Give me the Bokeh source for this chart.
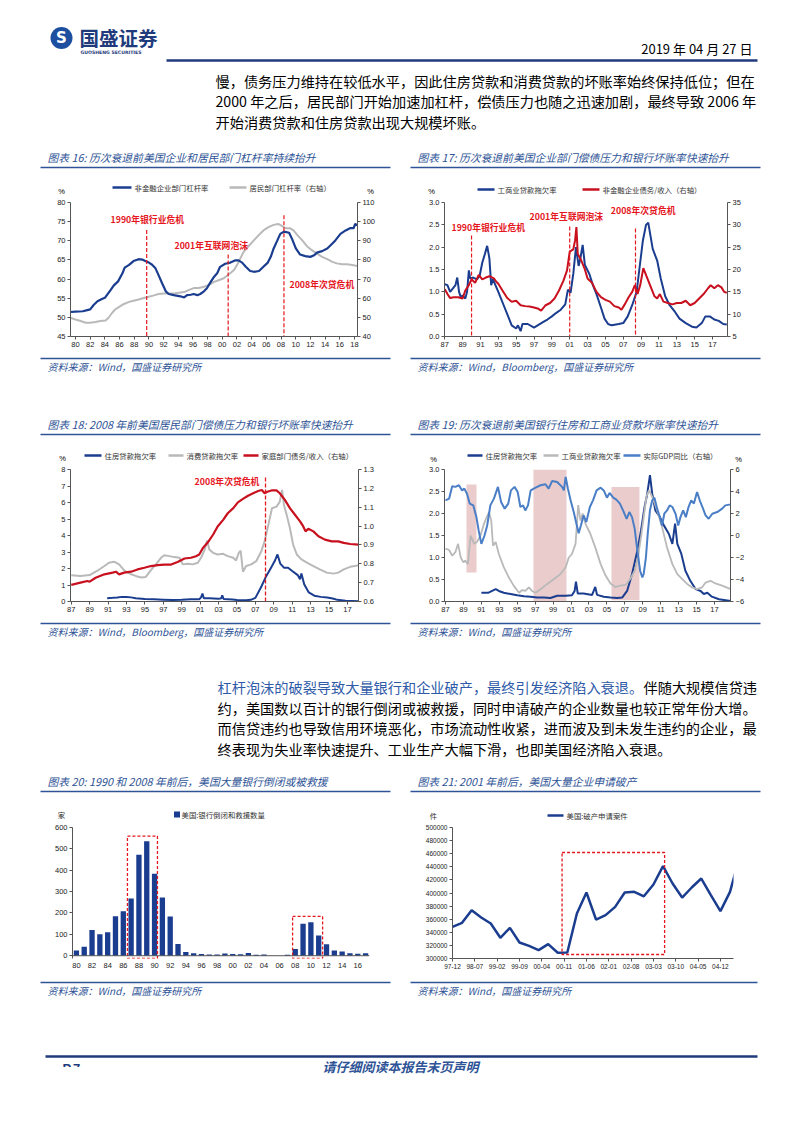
from bokeh.plotting import figure
from bokeh.models import Range1d, LinearAxis, FixedTicker, NumeralTickFormatter, Span
from bokeh.layouts import column, row
from bokeh.embed import file_html
from bokeh.resources import INLINE
from bokeh.core.properties import value

CJK = "Noto Sans CJK SC"
NUM = "Liberation Sans"
NAVY = "#1b3d8f"
GREY = "#b9b9b9"
RED = "#c8101e"
ANN = "#e5161d"
GDPC = "#4a7ec6"
TBLUE = "#2e5396"
HBLUE = "#1f3b7c"
LEG = 7.4
TITLE = 10.8

# ---------------- data ----------------
# Chart 16: leverage (%)  (year, value)
c16_corp = [(1979.3, 51.4), (1980, 51.5), (1981, 51.6), (1981.6, 51.9), (1982, 52.1), (1982.5, 53.3), (1983, 54.2),
            (1983.6, 54.8), (1984, 55.1), (1984.8, 57.2), (1985.2, 58.3), (1985.8, 59.4), (1986.4, 61.5), (1986.7, 63.0),
            (1987.3, 63.7), (1987.9, 64.7), (1988.6, 65.2), (1989.1, 65.1), (1989.5, 64.7), (1990, 64.3), (1990.4, 63.8),
            (1990.9, 62.8), (1991.3, 61.1), (1991.8, 58.9), (1992.3, 56.8), (1992.7, 56.1), (1993.4, 55.8), (1994.3, 55.5),
            (1994.8, 55.2), (1995.2, 55.8), (1995.7, 55.9), (1996.1, 56.1), (1996.6, 55.8), (1997, 56.1), (1997.5, 56.8),
            (1997.9, 57.6), (1998.4, 59.2), (1998.8, 60.4), (1999.3, 61.5), (1999.7, 63.2), (2000.4, 64.0), (2001.1, 64.3),
            (2001.8, 64.9), (2002.2, 64.9), (2002.7, 64.3), (2003.2, 63.2), (2003.8, 62.1), (2004.3, 61.9), (2005, 62.1),
            (2005.6, 63.2), (2006.2, 64.3), (2006.6, 65.8), (2007, 68.0), (2007.5, 70.1), (2007.9, 71.8), (2008.4, 72.4),
            (2009.1, 72.1), (2009.5, 70.5), (2010, 68.1), (2010.6, 66.4), (2011.3, 66.0), (2012, 65.8), (2012.5, 66.2),
            (2012.9, 66.9), (2013.6, 67.3), (2014.3, 68.0), (2015, 69.3), (2015.4, 70.1), (2016.1, 71.8), (2016.8, 72.7),
            (2017.4, 73.3), (2017.9, 73.3), (2018.1, 74.4), (2018.4, 74.0)]
c16_house = [(1979.3, 49.8), (1980, 48.9), (1980.7, 48.1), (1981.4, 47.2), (1982, 47.2), (1982.7, 47.6), (1983.4, 48.1),
             (1984.1, 48.4), (1984.5, 49.8), (1985, 52.4), (1985.4, 54.1), (1985.9, 55.3), (1986.6, 57.0), (1987.3, 58.1),
             (1987.9, 58.7), (1988.6, 59.3), (1989.3, 60.1), (1990, 60.8), (1990.7, 61.5), (1991.3, 62.2), (1992, 62.5),
             (1992.7, 62.5), (1993.4, 62.5), (1994.1, 62.9), (1994.8, 63.2), (1995.4, 64.2), (1996.1, 65.3), (1996.8, 65.3),
             (1997.5, 66.0), (1998.2, 67.0), (1998.8, 68.4), (1999.5, 69.4), (2000.2, 70.4), (2000.9, 72.5), (2001.6, 74.7),
             (2002.0, 77.3), (2002.5, 81.1), (2002.9, 84.2), (2003.6, 87.3), (2004.3, 90.2), (2005, 93.1), (2005.6, 95.4),
             (2006.3, 97.1), (2007, 98.3), (2007.6, 98.8), (2008, 98.0), (2008.6, 96.6), (2009.2, 96.6), (2009.7, 95.4),
             (2010.2, 93.1), (2010.9, 90.2), (2011.5, 87.3), (2012.2, 85.1), (2012.9, 83.3), (2013.6, 81.6), (2014.3, 80.4),
             (2015, 79.0), (2015.6, 78.2), (2016.3, 77.8), (2017, 77.7), (2017.7, 77.3), (2018.4, 76.8)]
c16_events = [1989.7, 2000.8, 2008.4]
c16_event_top = [72.8, 66.4, 76.7]
c16_event_names = ["1990年银行业危机", "2001年互联网泡沫", "2008年次贷危机"]

# Chart 17: C&I loan delinquency (%) and corporate debt/income (right)
c17_ci = [(1987.0, 1.17), (1987.3, 1.15), (1987.6, 1.0), (1988.0, 1.1), (1988.2, 1.15), (1988.4, 1.32), (1988.6, 1.0),
          (1988.8, 0.88), (1989.0, 0.92), (1989.3, 0.85), (1989.5, 1.0), (1989.7, 1.48), (1989.85, 1.3), (1990.2, 1.32),
          (1990.6, 1.28), (1990.9, 1.35), (1991.2, 1.65), (1991.5, 1.85), (1991.75, 2.03), (1992.0, 1.75), (1992.2, 1.15),
          (1992.4, 1.28), (1993.0, 1.0), (1993.5, 0.75), (1994.0, 0.5), (1994.5, 0.25), (1995.0, 0.18), (1995.2, 0.25),
          (1995.5, 0.12), (1995.7, 0.28), (1996.3, 0.28), (1997.0, 0.2), (1997.5, 0.26), (1998.0, 0.32), (1998.5, 0.38),
          (1999.0, 0.45), (1999.5, 0.53), (2000.0, 0.6), (2000.5, 0.72), (2000.8, 1.05), (2001.1, 0.98), (2001.4, 1.4),
          (2001.7, 2.0), (2002.0, 1.58), (2002.2, 1.75), (2002.45, 2.05), (2002.7, 1.6), (2003.2, 1.4), (2003.6, 1.15),
          (2004.0, 0.95), (2004.5, 0.65), (2004.9, 0.4), (2005.3, 0.28), (2005.7, 0.25), (2006.5, 0.28), (2007.0, 0.3),
          (2007.5, 0.45), (2008.0, 0.7), (2008.5, 1.0), (2008.8, 1.5), (2009.2, 2.15), (2009.55, 2.5), (2009.8, 2.55),
          (2010.3, 1.96), (2010.8, 1.7), (2011.2, 1.3), (2011.7, 0.9), (2012.2, 0.7), (2012.8, 0.55), (2013.3, 0.4),
          (2014.0, 0.3), (2014.7, 0.22), (2015.2, 0.2), (2015.8, 0.3), (2016.2, 0.45), (2016.7, 0.45), (2017.2, 0.38),
          (2017.7, 0.35), (2018.2, 0.28), (2018.6, 0.27)]
c17_debt = [(1987.0, 15.6), (1987.3, 14.5), (1987.6, 13.6), (1988.0, 13.8), (1988.5, 13.8), (1989.0, 13.5), (1989.3, 15.3),
            (1989.7, 16.5), (1990.0, 17.8), (1990.4, 17.0), (1990.8, 18.8), (1991.2, 17.8), (1991.6, 18.2), (1992.0, 18.5),
            (1992.5, 18.0), (1992.8, 17.2), (1993.0, 16.8), (1993.5, 15.2), (1994.0, 13.6), (1994.5, 12.8), (1995.0, 13.0),
            (1995.5, 12.0), (1996.0, 11.8), (1996.5, 11.7), (1997.0, 11.5), (1997.5, 11.2), (1997.8, 10.8), (1998.3, 12.0),
            (1998.8, 12.5), (1999.3, 13.5), (1999.8, 15.3), (2000.3, 17.5), (2000.7, 19.8), (2001.0, 24.0), (2001.4, 24.5),
            (2001.6, 26.5), (2001.75, 29.5), (2001.9, 23.5), (2002.3, 22.0), (2002.7, 20.0), (2003.0, 18.0), (2003.5, 17.0),
            (2004.0, 15.0), (2004.5, 13.8), (2005.0, 13.2), (2005.5, 12.8), (2006.0, 11.8), (2006.5, 11.5), (2006.8, 11.0),
            (2007.2, 12.3), (2007.6, 13.8), (2008.0, 15.0), (2008.3, 16.5), (2008.6, 14.5), (2008.9, 16.5), (2009.25, 20.3),
            (2009.6, 18.5), (2010.2, 15.5), (2010.5, 14.0), (2010.8, 13.5), (2011.1, 14.5), (2011.5, 12.8), (2012.0, 12.5),
            (2012.5, 12.2), (2013.0, 12.5), (2013.5, 12.5), (2014.0, 13.0), (2014.5, 12.0), (2015.0, 12.5), (2015.5, 13.5),
            (2016.0, 14.5), (2016.5, 15.8), (2016.8, 16.5), (2017.2, 15.8), (2017.6, 16.5), (2018.0, 16.0), (2018.3, 15.0),
            (2018.6, 14.8)]
c17_events = [1990.0, 2001.0, 2008.37]
c17_event_top = [2.26, 2.46, 2.42]

# Chart 18: household delinquency rates (%) and household debt/income (right)
c18_mort = [(1990.9, 0.2), (1991.5, 0.22), (1992.0, 0.24), (1992.5, 0.28), (1993.0, 0.27), (1993.5, 0.25), (1994.0, 0.2),
            (1995.0, 0.15), (1996.0, 0.13), (1997.0, 0.11), (1998.0, 0.09), (1999.0, 0.1), (2000.0, 0.13), (2000.9, 0.14),
            (2001.1, 0.25), (2001.25, 0.48), (2001.4, 0.2), (2002.0, 0.19), (2003.0, 0.16), (2003.3, 0.2), (2003.4, 0.38),
            (2003.55, 0.15), (2004.5, 0.12), (2005.0, 0.09), (2006.0, 0.08), (2006.5, 0.1), (2007.0, 0.22), (2007.6, 0.85),
            (2008.1, 1.45), (2008.7, 2.05), (2009.1, 2.45), (2009.4, 2.85), (2009.7, 2.3), (2010.1, 2.05), (2010.55, 2.05),
            (2011.0, 1.85), (2011.6, 1.6), (2011.85, 1.35), (2012.0, 1.7), (2012.3, 1.05), (2012.8, 0.55), (2013.4, 0.35),
            (2014.1, 0.28), (2014.8, 0.24), (2015.4, 0.18), (2015.9, 0.1), (2016.8, 0.05), (2018.2, 0.02)]
c18_cons = [(1987.0, 1.59), (1988.0, 1.55), (1989.0, 1.6), (1989.8, 1.85), (1990.6, 2.15), (1991.1, 2.35), (1991.65, 2.41),
            (1992.2, 2.25), (1992.75, 1.89), (1993.5, 1.65), (1994.0, 1.55), (1994.6, 1.45), (1995.1, 1.49), (1995.65, 1.9),
            (1996.2, 2.25), (1996.75, 2.65), (1997.1, 2.8), (1997.65, 2.75), (1998.2, 2.69), (1998.75, 2.65), (1999.1, 2.25),
            (1999.65, 2.29), (2000.2, 2.25), (2000.75, 2.35), (2001.1, 2.65), (2001.5, 3.15), (2001.75, 3.7), (2002.0, 3.15),
            (2002.4, 2.95), (2002.9, 2.85), (2003.5, 2.89), (2004.0, 2.75), (2004.6, 2.65), (2004.9, 2.49), (2005.2, 2.95),
            (2005.4, 3.09), (2005.65, 1.81), (2006.0, 2.15), (2006.55, 2.25), (2007.1, 2.45), (2007.65, 3.05), (2008.0, 3.65),
            (2008.45, 4.75), (2008.8, 5.65), (2009.3, 5.75), (2009.65, 6.05), (2009.9, 6.76), (2010.1, 5.86), (2010.4, 5.25),
            (2010.75, 4.45), (2011.1, 3.45), (2011.5, 2.85), (2012.0, 2.55), (2012.6, 2.35), (2013.3, 2.15), (2014.0, 1.95),
            (2014.75, 1.75), (2015.5, 1.69), (2016.0, 1.75), (2016.6, 1.95), (2017.3, 2.1), (2018.3, 2.2)]
c18_debt = [(1987.0, 0.688), (1988.0, 0.70), (1988.75, 0.709), (1989.0, 0.705), (1989.65, 0.726), (1990.6, 0.744),
            (1991.5, 0.753), (1991.85, 0.758), (1992.2, 0.744), (1992.75, 0.753), (1993.5, 0.758), (1994.2, 0.77),
            (1994.95, 0.779), (1995.65, 0.788), (1996.4, 0.793), (1997.1, 0.796), (1997.85, 0.796), (1998.55, 0.81),
            (1999.3, 0.828), (2000.0, 0.832), (2000.55, 0.84), (2000.9, 0.849), (2001.3, 0.884), (2001.8, 0.911),
            (2002.4, 0.954), (2002.9, 0.998), (2003.5, 1.033), (2004.0, 1.068), (2004.6, 1.095), (2005.1, 1.126),
            (2005.65, 1.144), (2006.2, 1.161), (2006.75, 1.174), (2007.3, 1.186), (2007.7, 1.191), (2008.0, 1.174),
            (2008.3, 1.182), (2008.75, 1.189), (2009.3, 1.189), (2009.65, 1.174), (2010.2, 1.139), (2010.75, 1.095),
            (2011.3, 1.06), (2011.85, 1.025), (2012.2, 0.998), (2012.45, 0.972), (2012.75, 0.986), (2013.3, 0.972),
            (2013.85, 0.946), (2014.55, 0.928), (2015.3, 0.919), (2016.0, 0.919), (2016.6, 0.911), (2017.3, 0.905),
            (2018.2, 0.902)]
c18_events = [2008.1]
c18_event_top = [7.52]

# Chart 19: mortgage & C&I delinquency (%), real GDP yoy (right)
c19_mort = [(1991.0, 0.2), (1991.8, 0.2), (1992.6, 0.28), (1992.95, 0.24), (1993.5, 0.2), (1994.25, 0.17), (1995.0, 0.14),
            (1995.75, 0.12), (1996.5, 0.11), (1997.2, 0.09), (1998.0, 0.09), (1998.7, 0.08), (1999.45, 0.13), (2000.4, 0.13),
            (2001.1, 0.14), (2001.4, 0.24), (2001.55, 0.45), (2001.75, 0.18), (2002.4, 0.18), (2003.35, 0.15), (2003.7, 0.33),
            (2003.9, 0.15), (2004.65, 0.11), (2005.4, 0.09), (2006.15, 0.08), (2006.7, 0.09), (2007.25, 0.24), (2007.8, 0.62),
            (2008.4, 1.16), (2008.8, 1.61), (2009.2, 2.15), (2009.5, 2.45), (2009.8, 2.87), (2010.05, 2.45), (2010.4, 2.07),
            (2010.9, 1.92), (2011.35, 1.73), (2011.9, 1.54), (2012.3, 1.31), (2012.6, 1.77), (2012.85, 1.31), (2013.3, 1.08),
            (2013.75, 0.7), (2014.3, 0.47), (2014.9, 0.28), (2015.45, 0.24), (2015.8, 0.17), (2016.2, 0.2), (2016.7, 0.11),
            (2017.5, 0.05), (2018.8, 0.01)]
c19_ci = [(1987.0, 1.2), (1987.4, 1.17), (1987.75, 1.04), (1988.1, 1.12), (1988.4, 1.31), (1988.7, 1.0), (1989.0, 0.89),
          (1989.2, 0.93), (1989.5, 0.85), (1989.8, 1.5), (1990.2, 1.31), (1990.5, 1.35), (1990.9, 1.5), (1991.3, 1.77),
          (1991.6, 1.92), (1991.85, 2.03), (1992.1, 1.84), (1992.3, 1.27), (1992.6, 1.35), (1992.95, 1.08), (1993.5, 0.78),
          (1994.05, 0.55), (1994.6, 0.36), (1995.2, 0.2), (1995.55, 0.26), (1995.9, 0.24), (1996.3, 0.32), (1996.65, 0.24),
          (1997.05, 0.2), (1997.6, 0.28), (1998.35, 0.4), (1999.1, 0.51), (1999.8, 0.62), (2000.4, 0.78), (2000.75, 1.0),
          (2001.1, 1.08), (2001.5, 1.31), (2001.8, 2.19), (2002.05, 1.84), (2002.3, 2.0), (2002.6, 1.77), (2003.15, 1.54),
          (2003.7, 1.23), (2004.3, 0.85), (2004.85, 0.59), (2005.4, 0.41), (2005.95, 0.33), (2006.5, 0.36), (2007.1, 0.38),
          (2007.6, 0.51), (2008.1, 0.7), (2008.45, 1.0), (2008.8, 1.46), (2009.1, 1.92), (2009.4, 2.38), (2009.7, 2.53),
          (2010.05, 2.38), (2010.6, 2.07), (2011.15, 1.69), (2011.7, 1.23), (2012.3, 0.85), (2012.85, 0.62), (2013.4, 0.51),
          (2013.95, 0.4), (2014.5, 0.32), (2015.05, 0.28), (2015.6, 0.32), (2016.0, 0.43), (2016.55, 0.47), (2017.1, 0.41),
          (2017.85, 0.36), (2018.8, 0.28)]
c19_gdp = [(1987.0, 3.2), (1987.4, 3.35), (1987.75, 4.48), (1988.1, 4.42), (1988.5, 4.57), (1988.85, 4.1), (1989.1, 4.26),
           (1989.4, 3.8), (1989.7, 2.9), (1990.1, 2.74), (1990.45, 1.67), (1990.7, 0.46), (1991.0, -0.76), (1991.35, 0.0),
           (1991.65, 0.91), (1992.0, 2.74), (1992.4, 3.35), (1992.85, 4.42), (1993.2, 3.05), (1993.6, 2.44), (1994.0, 2.9),
           (1994.3, 4.1), (1994.7, 4.42), (1995.05, 3.96), (1995.35, 2.59), (1995.65, 2.74), (1995.9, 2.28), (1996.2, 2.74),
           (1996.5, 4.1), (1997.05, 4.35), (1997.6, 4.57), (1998.15, 4.66), (1998.5, 4.26), (1998.9, 4.96), (1999.45, 4.87),
           (2000.0, 4.42), (2000.2, 4.1), (2000.4, 5.33), (2000.65, 4.26), (2000.95, 3.2), (2001.3, 2.13), (2001.6, 1.07),
           (2001.85, 0.21), (2002.1, 0.91), (2002.4, 1.83), (2002.7, 1.22), (2003.1, 2.59), (2003.45, 3.2), (2003.85, 4.1),
           (2004.3, 4.35), (2004.65, 4.1), (2005.0, 3.44), (2005.3, 3.87), (2005.7, 3.44), (2006.05, 3.26), (2006.45, 2.9),
           (2006.8, 2.28), (2007.2, 1.52), (2007.5, 2.13), (2007.8, 1.67), (2008.1, 0.6), (2008.3, -0.76), (2008.5, -1.98),
           (2008.7, -3.2), (2008.95, -3.81), (2009.1, -3.5), (2009.35, -1.98), (2009.55, 0.15), (2009.8, 2.28),
           (2010.05, 3.2), (2010.3, 3.44), (2010.6, 2.44), (2010.9, 1.67), (2011.15, 0.91), (2011.4, 1.98), (2011.7, 2.28),
           (2012.0, 2.74), (2012.3, 2.59), (2012.65, 1.98), (2012.95, 0.91), (2013.2, 1.67), (2013.5, 2.28), (2013.8, 1.67),
           (2014.1, 2.59), (2014.4, 3.2), (2014.7, 2.9), (2015.05, 3.96), (2015.35, 3.2), (2015.65, 2.59), (2016.0, 1.83),
           (2016.35, 1.52), (2016.75, 1.98), (2017.3, 2.13), (2017.85, 2.44), (2018.2, 2.74), (2018.8, 2.83)]
c19_band_start = [1989.34, 1996.81, 2005.51]
c19_band_end = [1990.46, 2000.49, 2008.63]
c19_band_low = [0.66, 0.0, 0.03]
c19_band_high = [2.66, 3.0, 2.6]

# Chart 20: US bank failures and assistance (count)
c20_years = list(range(1980, 2018))
c20_banks = [25, 42, 120, 100, 110, 185, 208, 268, 472, 536, 383, 272, 183, 55, 17, 12, 8, 6, 6, 10, 8, 7, 13, 5,
             6, 0, 0, 5, 32, 150, 157, 95, 54, 25, 20, 12, 9, 12]
c20_box_start = [1986.53, 2007.66]
c20_box_end = [1990.37, 2011.5]
c20_box_top = [560, 184]

# Chart 21: US bankruptcy filings (quarterly, from 1997-12)
c21_months = list(range(0, 91, 3))
c21_filings = [348350, 354450, 373800, 362600, 353400, 331600, 346800, 324400, 319300, 312700, 321900, 308700,
               309200, 368700, 400800, 359500, 366200, 378900, 400800, 401800, 395000, 413000, 441000, 414500,
               393100, 408400, 422100, 396700, 372300, 401800, 455000]
c21_tick_months = list(range(0, 85, 7))
c21_tick_labels = ["97-12", "98-07", "99-02", "99-09", "00-04", "00-11", "01-06", "02-01", "02-08", "03-03",
                   "03-10", "04-05", "04-12"]
c21_box = [34.35, 66.5, 306100, 461800]


def xs(d):
    return [a for a, b in d]


def ys(d):
    return [b for a, b in d]


PAGE_W = 802


# ---------------- helpers ----------------
def page_fig(y0, y1):
    p = figure(width=PAGE_W, height=y1 - y0, x_range=Range1d(0, PAGE_W), y_range=Range1d(y1, y0),
               output_backend="svg", toolbar_location=None, min_border=0,
               x_axis_location=None, y_axis_location=None)
    p.grid.visible = False
    p.outline_line_color = None
    p.background_fill_color = "white"
    p.border_fill_color = "white"
    return p


def T(p, x, y, s, size, color="black", font=CJK, style="normal", align="left"):
    p.text(x=[x], y=[y], text=[s], text_font=value(font), text_font_size=f"{size}px",
           text_color=color, text_font_style=style, text_align=align, text_baseline="middle")


def H(p, x0, x1, y, color=TBLUE, w=1.5):
    p.segment(x0=[x0], y0=[y], x1=[x1], y1=[y], line_color=color, line_width=w)


def style_axis(ax, size="7.5px", tick_out=3, tick_in=0, standoff=2):
    ax.axis_line_color = "#555555"
    ax.axis_line_width = 1
    ax.major_tick_line_color = "#555555"
    ax.major_tick_out = tick_out
    ax.major_tick_in = tick_in
    ax.minor_tick_line_color = None
    ax.major_label_text_font = NUM
    ax.major_label_text_font_size = size
    ax.major_label_text_color = "#222222"
    ax.major_label_standoff = standoff


def chart(w, h, xr, yr, left, right, top, bottom):
    p = figure(width=w, height=h, x_range=Range1d(*xr), y_range=Range1d(*yr),
               output_backend="svg", toolbar_location=None,
               min_border_left=left, min_border_right=right, min_border_top=top, min_border_bottom=bottom)
    p.grid.visible = False
    p.outline_line_color = None
    p.background_fill_color = "white"
    p.border_fill_color = "white"
    for ax in p.xaxis + p.yaxis:
        style_axis(ax)
    return p


def year_ticks(p, first, last):
    t = list(range(first, last + 1, 2))
    p.xaxis.ticker = FixedTicker(ticks=t)
    p.xaxis.major_label_overrides = {v: f"{v % 100:02d}" for v in t}


def right_axis(p, lo, hi, step, fmt=None):
    p.extra_y_ranges = {"r": Range1d(lo, hi)}
    n = int(round((hi - lo) / step))
    ax = LinearAxis(y_range_name="r", ticker=FixedTicker(ticks=[lo + i * step for i in range(n + 1)]))
    style_axis(ax, tick_out=3, standoff=2)
    if fmt:
        ax.formatter = NumeralTickFormatter(format=fmt)
    p.add_layout(ax, "right")


def ann(p, x, y, s):
    p.text(x=[x], y=[y], text=[s], text_font=value(CJK), text_font_size="8.8px", text_color=ANN,
           text_font_style="bold", text_align="left", text_baseline="middle")


# ---------------- header (page y 0..196) ----------------
hd = page_fig(0, 196)
hd.scatter(x=[61], y=[37.5], size=22, marker="circle", fill_color="#1d4fa0", line_color=None)
T(hd, 61, 37.5, "S", 15, color="white", font="DejaVu Sans", style="bold", align="center")
T(hd, 79, 37, "国盛证券", 19.5, color=HBLUE, style="bold")
T(hd, 80, 52, "GUOSHENG SECURITIES", 4.6, color=HBLUE, font="DejaVu Sans", style="bold")
T(hd, 752, 48, "2019 年 04 月 27 日", 13, align="right")
H(hd, 166, 757, 60, color=HBLUE, w=2.5)
T(hd, 215, 80, "慢，债务压力维持在较低水平，因此住房贷款和消费贷款的坏账率始终保持低位；但在", 14.2)
T(hd, 215, 100.5, "2000 年之后，居民部门开始加速加杠杆，偿债压力也随之迅速加剧，最终导致 2006 年", 14.2)
T(hd, 215, 121, "开始消费贷款和住房贷款出现大规模坏账。", 14.2)
T(hd, 47, 156, "图表 16:  历次衰退前美国企业和居民部门杠杆率持续抬升", TITLE, color=TBLUE, style="italic")
T(hd, 417, 156, "图表 17:  历次衰退前美国企业部门偿债压力和银行坏账率快速抬升", TITLE, color=TBLUE, style="italic")
H(hd, 40, 390, 167)
H(hd, 410, 760, 167)
H(hd, 112, 131, 187, color=NAVY, w=2.5)
T(hd, 134, 187, "非金融企业部门杠杆率", LEG, color="#333333")
H(hd, 229, 246, 187, color=GREY, w=2.5)
T(hd, 249, 187, "居民部门杠杆率（右轴）", LEG, color="#333333")
H(hd, 477, 494, 189, color=NAVY, w=2.5)
T(hd, 497, 189, "工商业贷款拖欠率", LEG, color="#333333")
H(hd, 582, 599, 189, color=RED, w=2.5)
T(hd, 602, 189, "非金融企业债务/收入（右轴）", LEG, color="#333333")
T(hd, 61, 191, "%", 7.5, font=NUM, align="center")
T(hd, 370, 191, "%", 7.5, font=NUM, align="center")
T(hd, 431, 191, "%", 7.5, font=NUM, align="center")

# ---------------- chart 16 ----------------
p16 = chart(400, 159, (1979.32, 2018.42), (45, 80), 70, 43, 4, 19)
p16.yaxis.ticker = FixedTicker(ticks=list(range(45, 81, 5)))
year_ticks(p16, 1980, 2018)
right_axis(p16, 40, 110, 10)
p16.line(xs(c16_house), ys(c16_house), y_range_name="r", line_color=GREY, line_width=2)
p16.line(xs(c16_corp), ys(c16_corp), line_color=NAVY, line_width=2.2)
p16.segment(x0=c16_events, y0=c16_event_top, x1=c16_events, y1=[45] * 3, line_color=ANN,
            line_dash="4 2", line_width=1.2)
ann(p16, 1984.77, 75.6, c16_event_names[0])
ann(p16, 1993.48, 68.7, c16_event_names[1])
ann(p16, 2009.15, 58.6, c16_event_names[2])

# ---------------- chart 17 ----------------
p17 = chart(402, 159, (1986.97, 2018.68), (0, 3), 44, 75, 6, 19)
p17.yaxis.ticker = FixedTicker(ticks=[0, 0.5, 1.0, 1.5, 2.0, 2.5, 3.0])
p17.yaxis.formatter = NumeralTickFormatter(format="0.0")
year_ticks(p17, 1987, 2017)
right_axis(p17, 5, 35, 5)
p17.line(xs(c17_ci), ys(c17_ci), line_color=NAVY, line_width=2)
p17.line(xs(c17_debt), ys(c17_debt), y_range_name="r", line_color=RED, line_width=2)
p17.segment(x0=c17_events, y0=c17_event_top, x1=c17_events, y1=[0] * 3, line_color=ANN,
            line_dash="4 2", line_width=1.2)
ann(p17, 1987.75, 2.44, c16_event_names[0])
ann(p17, 1996.5, 2.69, c16_event_names[1])
ann(p17, 2005.6, 2.82, c16_event_names[2])

# ---------------- mid1 (page y 355..464) ----------------
m1 = page_fig(355, 464)
H(m1, 40, 390, 358)
H(m1, 410, 760, 358)
T(m1, 47, 366, "资料来源：Wind，国盛证券研究所", 10, color=TBLUE, style="italic")
T(m1, 417, 366, "资料来源：Wind，Bloomberg，国盛证券研究所", 10, color=TBLUE, style="italic")
T(m1, 47, 423, "图表 18:  2008 年前美国居民部门偿债压力和银行坏账率快速抬升", TITLE, color=TBLUE, style="italic")
T(m1, 417, 423, "图表 19:  历次衰退前美国银行住房和工商业贷款坏账率快速抬升", TITLE, color=TBLUE, style="italic")
H(m1, 40, 390, 434)
H(m1, 410, 760, 434)
H(m1, 84, 101, 455, color=NAVY, w=2.5)
T(m1, 104, 455, "住房贷款拖欠率", LEG, color="#333333")
H(m1, 168, 183, 455, color=GREY, w=2.5)
T(m1, 186, 455, "消费贷款拖欠率", LEG, color="#333333")
H(m1, 243, 258, 455, color=RED, w=2.5)
T(m1, 261, 455, "家庭部门债务/收入（右轴）", LEG, color="#333333")
H(m1, 467, 482, 455, color=NAVY, w=2.5)
T(m1, 485, 455, "住房贷款拖欠率", LEG, color="#333333")
H(m1, 543, 558, 455, color=GREY, w=2.5)
T(m1, 561, 455, "工商业贷款拖欠率", LEG, color="#333333")
H(m1, 623, 640, 455, color=GDPC, w=2.5)
T(m1, 643, 455, "实际GDP同比（右轴）", LEG, color="#333333")
T(m1, 62, 458, "%", 7.5, font=NUM, align="center")
T(m1, 433, 459, "%", 7.5, font=NUM, align="center")
T(m1, 738, 459, "%", 7.5, font=NUM, align="center")

# ---------------- chart 18 ----------------
p18 = chart(400, 156, (1986.92, 2018.2), (0, 8), 70, 42, 4, 19)
p18.yaxis.ticker = FixedTicker(ticks=list(range(0, 9)))
year_ticks(p18, 1987, 2017)
right_axis(p18, 0.6, 1.3, 0.1, fmt="0.0")
p18.line(xs(c18_mort), ys(c18_mort), line_color=NAVY, line_width=2)
p18.line(xs(c18_cons), ys(c18_cons), line_color=GREY, line_width=2)
p18.line(xs(c18_debt), ys(c18_debt), y_range_name="r", line_color=RED, line_width=2.2)
p18.segment(x0=c18_events, y0=c18_event_top, x1=c18_events, y1=[0], line_color=ANN,
            line_dash="4 2", line_width=1.3)
ann(p18, 2000.4, 7.28, c16_event_names[2])

# ---------------- chart 19 ----------------
p19 = chart(402, 156, (1986.89, 2018.78), (0, 3), 44, 72, 5, 19)
p19.yaxis.ticker = FixedTicker(ticks=[0, 0.5, 1.0, 1.5, 2.0, 2.5, 3.0])
p19.yaxis.formatter = NumeralTickFormatter(format="0.0")
year_ticks(p19, 1987, 2017)
right_axis(p19, -6, 6, 2)
p19.quad(left=c19_band_start, right=c19_band_end, bottom=c19_band_low, top=c19_band_high,
         fill_color="#e6c3c3", fill_alpha=0.85, line_color=None)
p19.line(xs(c19_mort), ys(c19_mort), line_color=NAVY, line_width=2)
p19.line(xs(c19_ci), ys(c19_ci), line_color=GREY, line_width=1.8)
p19.line(xs(c19_gdp), ys(c19_gdp), y_range_name="r", line_color=GDPC, line_width=2)

# ---------------- mid2 (page y 620..820) ----------------
m2 = page_fig(620, 820)
H(m2, 40, 390, 623)
H(m2, 410, 760, 623)
T(m2, 47, 631, "资料来源：Wind，Bloomberg，国盛证券研究所", 10, color=TBLUE, style="italic")
T(m2, 417, 631, "资料来源：Wind，国盛证券研究所", 10, color=TBLUE, style="italic")
T(m2, 217, 686, "杠杆泡沫的破裂导致大量银行和企业破产，最终引发经济陷入衰退。", 14.2, color="#2e5aa8")
T(m2, 643, 686, "伴随大规模信贷违", 14.2)
T(m2, 217, 707, "约，美国数以百计的银行倒闭或被救援，同时申请破产的企业数量也较正常年份大增。", 14.2)
T(m2, 217, 727, "而信贷违约也导致信用环境恶化，市场流动性收紧，进而波及到未发生违约的企业，最", 14.2)
T(m2, 217, 748, "终表现为失业率快速提升、工业生产大幅下滑，也即美国经济陷入衰退。", 14.2)
T(m2, 47, 780, "图表 20:  1990 和 2008 年前后，美国大量银行倒闭或被救援", TITLE, color=TBLUE, style="italic")
T(m2, 417, 780, "图表 21:  2001 年前后，美国大量企业申请破产", TITLE, color=TBLUE, style="italic")
H(m2, 40, 390, 791)
H(m2, 410, 760, 791)
m2.scatter(x=[176.5], y=[814], marker="square", size=6, fill_color=NAVY, line_color=None)
T(m2, 181, 814, "美国:银行倒闭和救援数量", LEG, color="#333333")
T(m2, 61, 814, "家", LEG, color="#333333", align="center")
H(m2, 547, 563, 815, color=NAVY, w=2.5)
T(m2, 566, 815, "美国:破产申请案件", LEG, color="#333333")
T(m2, 433, 815, "件", LEG, color="#333333", align="center")

# ---------------- chart 20 ----------------
p20 = chart(400, 158, (1979.5, 2017.5), (-13, 600), 72, 31, 5, 16)
p20.yaxis.ticker = FixedTicker(ticks=list(range(0, 601, 100)))
year_ticks(p20, 1980, 2016)
style_axis(p20.xaxis[0], tick_out=0, standoff=4)
p20.xaxis.axis_line_color = None
p20.add_layout(Span(location=0, dimension="width", line_color="#555555", line_width=1))
p20.vbar(x=c20_years, top=c20_banks, width=0.68, fill_color=NAVY, line_color=None)
p20.quad(left=c20_box_start, right=c20_box_end, bottom=[-13, -13], top=c20_box_top,
         fill_color=None, line_color=ANN, line_dash="3 2", line_width=1.3)

# ---------------- chart 21 ----------------
p21 = chart(402, 158, (0, 88.1), (300000, 500000), 52, 69, 7, 20)
p21.yaxis.ticker = FixedTicker(ticks=list(range(300000, 500001, 20000)))
p21.yaxis.formatter = NumeralTickFormatter(format="0")
p21.xaxis.ticker = FixedTicker(ticks=c21_tick_months)
p21.xaxis.major_label_overrides = {m: l for m, l in zip(c21_tick_months, c21_tick_labels)}
for ax in p21.xaxis + p21.yaxis:
    ax.major_label_text_font_size = "6.5px"
p21.line(c21_months, c21_filings, line_color=NAVY, line_width=2.5)
p21.quad(left=[c21_box[0]], right=[c21_box[1]], bottom=[c21_box[2]], top=[c21_box[3]],
         fill_color=None, line_color=ANN, line_dash="3 2", line_width=1.3)

# ---------------- footer (page y 978..1133) ----------------
ft = page_fig(978, 1133)
H(ft, 40, 390, 982)
H(ft, 410, 757, 982)
T(ft, 47, 990, "资料来源：Wind，国盛证券研究所", 10, color=TBLUE, style="italic")
T(ft, 417, 990, "资料来源：Wind，国盛证券研究所", 10, color=TBLUE, style="italic")
H(ft, 45, 757, 1056, color=HBLUE, w=2.5)
T(ft, 62, 1068, "P.7", 13, color=HBLUE, font=NUM, style="bold")
ft.quad(left=[55], right=[95], bottom=[1078], top=[1066.5], fill_color="white", line_color=None)
T(ft, 400, 1066, "请仔细阅读本报告末页声明", 13, color=TBLUE, style="bold italic", align="center")

layout = column(hd, row(p16, p17), m1, row(p18, p19), m2, row(p20, p21), ft)

with open("out.html", "w") as f:
    f.write(file_html(layout, INLINE))
